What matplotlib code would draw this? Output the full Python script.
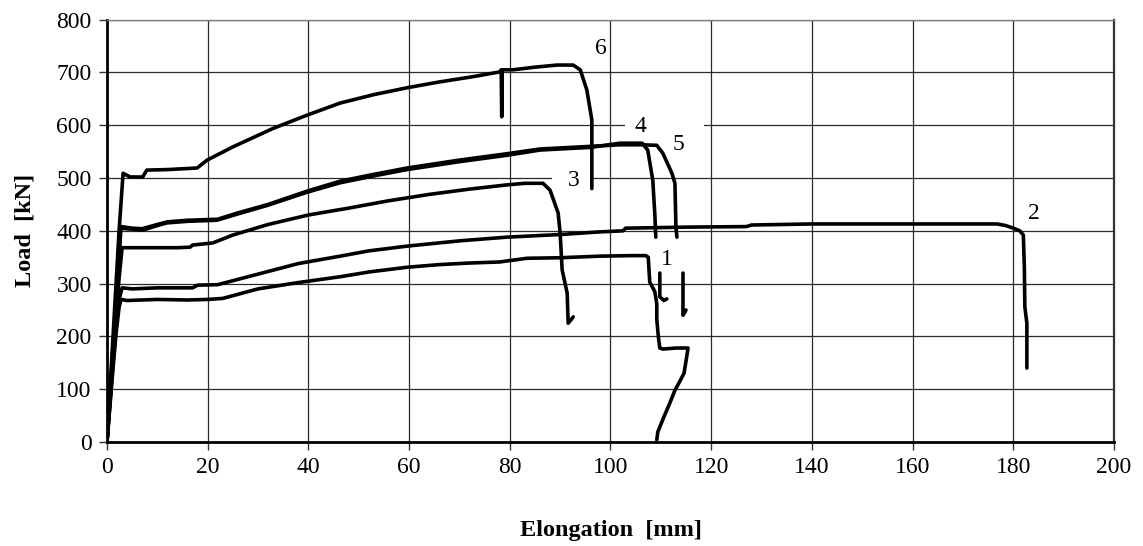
import numpy as np
import matplotlib.pyplot as plt
from matplotlib.patches import Rectangle

nan = np.nan

# Load-elongation curves (elongation in mm, load in kN)
x1 = [0, 0.6, 1.2, 1.8, 2.4, 2.8, 4, 10, 16, 20, 23, 30, 38, 46.3, 52, 59.6, 66, 72, 78, 83.4,
      90, 97.9, 104, 107.0, 107.5, 107.8, 108.8, 109.2, 109.2, 109.5, 109.8, 110.4, 113, 115.4,
      115.2, 114.6, 113.5, 112.8, 111.8, 110.5, 109.4, 109.2]
y1 = [0, 70, 140, 205, 255, 270, 268, 270, 269, 270, 272, 290, 302, 313, 322, 331, 336, 339, 341, 348,
      349, 352, 353, 353, 350, 303, 285, 262, 232, 200, 178, 176, 178, 178,
      165, 130, 110, 98, 74, 45, 19, 4]

x2 = [0, 0.6, 1.2, 1.8, 2.4, 3.0, 5, 10, 17, 18, 22, 30, 38, 46.3, 52, 59.6, 70, 79.4, 90, 97.9,
      102.5, 103, 115, 127, 128, 140, 155, 165, 176.8, 178.5, 180, 181.3, 182, 182.2, 182.3, 182.7, 182.7]
y2 = [0, 75, 150, 215, 270, 292, 290, 292, 292, 297, 298, 318, 338, 352, 362, 371, 381, 388, 393, 398,
      400, 405, 407, 408, 411, 413, 413, 413, 413, 410, 405, 400, 392, 330, 256, 225, 140]

x3 = [0, 0.6, 1.2, 1.8, 2.4, 3.0, 8, 14, 16.5, 17, 21, 25, 32, 40, 48, 56, 64, 72, 79.4, 83, 86.6,
      88, 89.6, 90, 90.4, 91.4, 91.6, 92.2, 92.6]
y3 = [0, 80, 160, 240, 310, 368, 368, 368, 369, 373, 377, 392, 412, 430, 443, 457, 469, 479, 487, 490, 490,
      477, 434, 396, 326, 282, 225, 232, 237]

x4 = [0, 0.6, 1.2, 1.8, 2.4, 2.6, 5, 7, 10, 11.9, 16, 21.8, 26, 31.8, 39.7, 46.3, 53, 59.6, 70, 79.4,
      86, 96, 101.9, 104, 106.3, 107.4, 108.4, 108.8, 109.0, nan, 109.8, 109.8, 110.6, 111.2]
y4 = [0, 85, 170, 260, 340, 405, 403, 401, 410, 415, 418, 420, 432, 448, 473, 491, 504, 516, 531, 543,
      553, 558, 566, 566, 566, 553, 496, 433, 388, nan, 320, 275, 268, 271]

x5 = [0, 0.6, 1.2, 1.8, 2.4, 2.8, 5, 7, 10, 12, 16, 22, 26, 32, 40, 46.3, 53, 59.6, 70, 79.4,
      86, 96, 101.9, 106, 109.2, 110.4, 112.2, 112.8, 113.0, 113.2, nan, 114.4, 114.4, 115.0]
y5 = [0, 90, 180, 270, 350, 408, 405, 404, 412, 417, 420, 422, 434, 450, 476, 494, 507, 519, 534, 546,
      555, 560, 563, 563, 562, 547, 509, 490, 407, 388, nan, 320, 240, 250]

x6 = [0, 0.6, 1.2, 1.8, 2.4, 3.2, 4.6, 7.1, 7.9, 12, 17.9, 19.9, 25, 33, 39.7, 46.3, 53, 59.6, 66,
      72.7, 78, 78.3, 78.4, 78.5, 80.6, 85, 89.4, 92.6, 94, 95.3, 96.3, 96.3]
y6 = [0, 100, 200, 300, 400, 509, 502, 502, 515, 516, 519, 534, 559, 594, 619, 642, 658, 671, 682,
      692, 701, 705, 616, 705, 705, 710, 714, 714, 705, 667, 610, 480]

labels = ['1', '2', '3', '4', '5', '6']
label_x = [111.2, 184.0, 92.7, 105.9, 113.4, 98.0]
label_y = [345, 433, 496, 597, 563, 745]

serif = 'Liberation Serif'

fig = plt.figure(figsize=(11.43, 5.46), dpi=100)
ax = fig.add_axes([0.0936, 0.1905, 0.8810, 0.7735])
ax.set_axisbelow(True)

for xs, ys in [(x1, y1), (x2, y2), (x3, y3), (x4, y4), (x5, y5), (x6, y6)]:
    ax.plot(xs, ys, color='black', lw=2.6, solid_joinstyle='round', solid_capstyle='round', zorder=3)

# white patches behind labels 4 and 3 (they hide the grid lines)
ax.add_patch(Rectangle((102.9, 585), 15.7, 28, facecolor='white', edgecolor='none', zorder=1))
ax.add_patch(Rectangle((88.4, 484), 8.0, 28, facecolor='white', edgecolor='none', zorder=1))

for t, lx, ly in zip(labels, label_x, label_y):
    ax.text(lx, ly, t, ha='center', va='center', fontsize=17, family=serif, zorder=4)

ax.set_xlim(0, 200)
ax.set_ylim(0, 800)
ax.set_xticks(np.arange(0, 201, 20))
ax.set_yticks(np.arange(0, 801, 100))
ax.grid(True, color='#2a2a2a', lw=0.9)

for lab in ax.get_xticklabels() + ax.get_yticklabels():
    lab.set_family(serif)
    lab.set_fontsize(17)
ax.tick_params(direction='out', length=6, width=1, color='#333333', pad=5)

ax.spines['left'].set_linewidth(2)
ax.spines['bottom'].set_linewidth(2)
ax.spines['top'].set_color('#808080')
ax.spines['top'].set_linewidth(1)
ax.spines['right'].set_color('#333333')
ax.spines['right'].set_linewidth(1.6)

ax.set_xlabel('Elongation  [mm]', family=serif, fontsize=17.5, fontweight='bold', labelpad=30)
ax.set_ylabel('Load  [kN]', family=serif, fontsize=17.5, fontweight='bold', labelpad=15)

fig.savefig('out.png', dpi=100)
